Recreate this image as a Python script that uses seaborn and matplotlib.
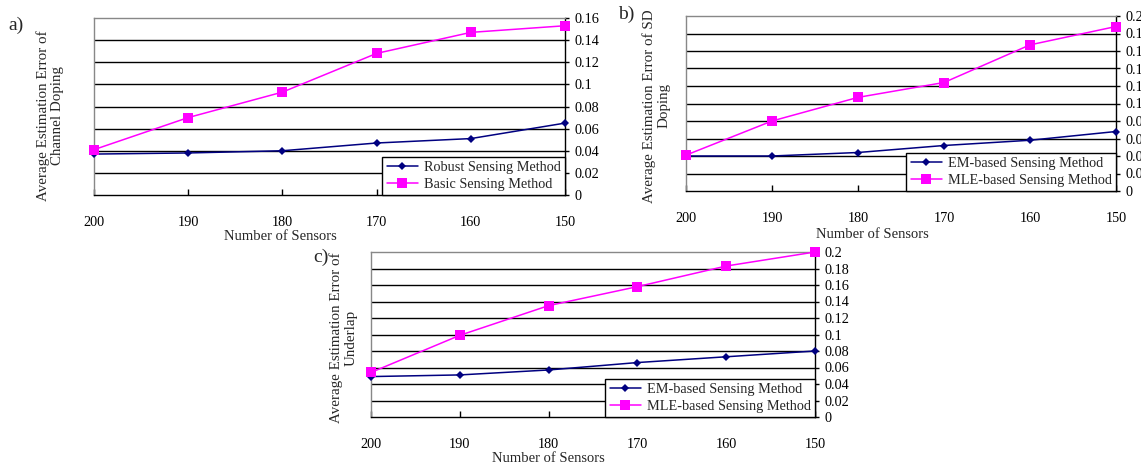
import matplotlib
matplotlib.use("Agg")
import matplotlib.pyplot as plt
import seaborn as sns
import pandas as pd

# ---- data ----
sensors = ["200", "190", "180", "170", "160", "150"]

a_robust = [0.037, 0.038, 0.040, 0.047, 0.051, 0.065]
a_basic = [0.041, 0.070, 0.093, 0.128, 0.147, 0.153]

b_em = [0.040, 0.040, 0.044, 0.052, 0.058, 0.068]
b_mle = [0.041, 0.080, 0.107, 0.124, 0.167, 0.188]

c_em = [0.049, 0.051, 0.057, 0.066, 0.073, 0.080]
c_mle = [0.054, 0.099, 0.135, 0.158, 0.183, 0.200]

a_ticks = [0, 0.02, 0.04, 0.06, 0.08, 0.1, 0.12, 0.14, 0.16]
bc_ticks = [0, 0.02, 0.04, 0.06, 0.08, 0.1, 0.12, 0.14, 0.16, 0.18, 0.2]
a_ticklabels = ["0", "0.02", "0.04", "0.06", "0.08", "0.1", "0.12", "0.14", "0.16"]
bc_ticklabels = ["0", "0.02", "0.04", "0.06", "0.08", "0.1", "0.12", "0.14", "0.16", "0.18", "0.2"]

sns.set_theme(style="white")
plt.rcParams["font.family"] = ["Liberation Serif", "DejaVu Serif"]
plt.rcParams["font.size"] = 10

NAVY = "#000080"
MAGENTA = "#FF00FF"

fig = plt.figure(figsize=(11.41, 4.63), dpi=100)
W, H = 1141, 463


def px_axes(left, top, right, bottom):
    return fig.add_axes([left / W, (H - bottom) / H, (right - left) / W, (bottom - top) / H])


def panel(ax, s1, s2, n1, n2, ticks, ticklabels):
    df = pd.DataFrame({
        "pos": list(range(len(sensors))) * 2,
        "val": s1 + s2,
        "method": [n1] * len(s1) + [n2] * len(s2),
    })
    sns.lineplot(data=df, x="pos", y="val", hue="method", style="method",
                 hue_order=[n1, n2], style_order=[n1, n2],
                 palette={n1: NAVY, n2: MAGENTA},
                 markers={n1: "D", n2: "s"}, dashes=False,
                 linewidth=1.1, markeredgewidth=0, ax=ax, clip_on=False, zorder=5)
    for line in ax.lines:
        if line.get_marker() == "D":
            line.set_markersize(4.5)
        else:
            line.set_markersize(6.5)
    ax.set_xlim(0, len(sensors) - 1)
    ax.set_ylim(ticks[0], ticks[-1])
    ax.set_xticks(range(len(sensors)))
    ax.set_xticklabels(sensors)
    ax.yaxis.tick_right()
    ax.set_yticks(ticks)
    ax.set_yticklabels(ticklabels)
    ax.set_xlabel("")
    ax.set_ylabel("")
    for t in ticks[1:-1]:
        ax.axhline(t, color="black", lw=1.0, zorder=1)
    ax.spines["left"].set_color("#888888")
    ax.spines["top"].set_color("#888888")
    ax.spines["bottom"].set_color("black")
    ax.spines["right"].set_color("black")
    for sp in ax.spines.values():
        sp.set_linewidth(1.0)
    ax.tick_params(axis="x", direction="in", length=4, width=1, color="black",
                   bottom=True, labelsize=10.3, pad=15)
    ax.tick_params(axis="y", direction="out", length=3, width=1, color="black",
                   right=True, left=False, labelsize=10.3, pad=4)
    for lab in ax.get_xticklabels() + ax.get_yticklabels():
        lab.set_color("black")
    leg = ax.legend(loc="lower right", bbox_to_anchor=(1.0, 0.0), borderaxespad=0,
                    frameon=True, fancybox=False, framealpha=1, edgecolor="black",
                    fontsize=10.3, handlelength=2.2, handletextpad=0.4,
                    labelspacing=0.25, borderpad=0.3, title=None)
    leg.get_frame().set_linewidth(1.0)
    leg.set_zorder(10)


axa = px_axes(94, 18, 565, 195)
panel(axa, a_robust, a_basic, "Robust Sensing Method", "Basic Sensing Method",
      a_ticks, a_ticklabels)
axb = px_axes(686, 16, 1116, 191)
panel(axb, b_em, b_mle, "EM-based Sensing Method", "MLE-based Sensing Method",
      bc_ticks, bc_ticklabels)
axc = px_axes(371, 252, 815, 417)
panel(axc, c_em, c_mle, "EM-based Sensing Method", "MLE-based Sensing Method",
      bc_ticks, bc_ticklabels)

# axis titles
def ftext(x, y, s, **kw):
    fig.text(x / W, 1 - y / H, s, **kw)

ftext(280, 237, "Number of Sensors", ha="center", va="center", fontsize=10.5)
ftext(872, 234, "Number of Sensors", ha="center", va="center", fontsize=10.5)
ftext(548, 458, "Number of Sensors", ha="center", va="center", fontsize=10.5)

ylab_kw = dict(rotation=90, ha="center", va="center", multialignment="center",
               fontsize=10.8, linespacing=1.15)
ftext(50, 116, "Average Estimation Error of\nChannel Doping", **ylab_kw)
ftext(656, 106, "Average Estimation Error of SD\nDoping", **ylab_kw)
ftext(343, 338, "Average Estimation Error of\nUnderlap", **ylab_kw)

ftext(16, 25, "a)", ha="center", va="center", fontsize=14)
ftext(626, 14, "b)", ha="center", va="center", fontsize=14)
ftext(321, 257, "c)", ha="center", va="center", fontsize=14)

fig.savefig("out.png", dpi=100)
